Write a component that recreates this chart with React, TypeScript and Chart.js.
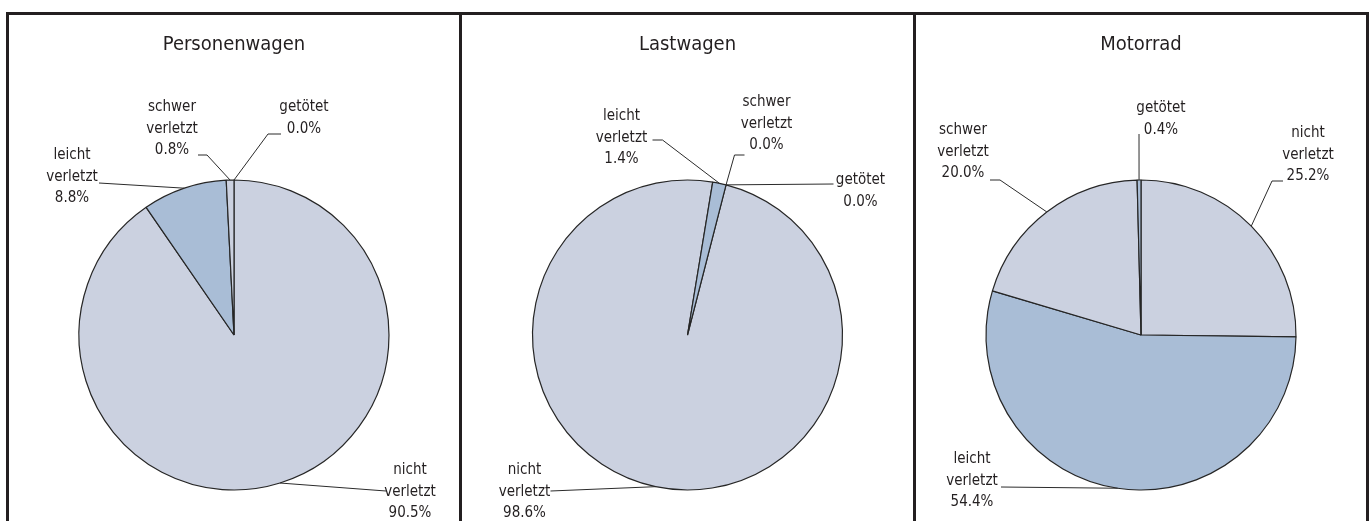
import React, { useEffect, useRef } from "react";
import { Chart, registerables } from "chart.js";

Chart.register(...registerables);

// ---- data ----
const categories = ["nicht verletzt", "leicht verletzt", "schwer verletzt", "getötet"];
const chartTitles = ["Personenwagen", "Lastwagen", "Motorrad"];
const personenwagenValues = [90.5, 8.8, 0.8, 0.0];
const lastwagenValues = [98.6, 1.4, 0.0, 0.0];
const motorradValues = [25.2, 54.4, 20.0, 0.4];
const firstSliceAngles = [0, 14.4, 0];
const sliceColors = ["#CBD1E0", "#A9BDD6", "#CBD1E0", "#A9BDD6"];

// ---- label layout (offsets from pie centre, px) ----
type LabelPos = { tx: number; ty: number; ex: number; ey: number; sx?: number; sy?: number };
const personenwagenLabels: LabelPos[] = [
  { tx: 176, ty: 157, ex: 152, ey: 156 },
  { tx: -162, ty: -158, ex: -135, ey: -152 },
  { tx: -62, ty: -206, ex: -27, ey: -180, sx: -36, sy: -180 },
  { tx: 70, ty: -217, ex: 34, ey: -201, sx: 47, sy: -201 },
];
const lastwagenLabels: LabelPos[] = [
  { tx: -163, ty: 157, ex: -137, ey: 156 },
  { tx: -66, ty: -197, ex: -25, ey: -195, sx: -35, sy: -195 },
  { tx: 79, ty: -211, ex: 47, ey: -180, sx: 57, sy: -180 },
  { tx: 173, ty: -144, ex: 146, ey: -151 },
];
const motorradLabels: LabelPos[] = [
  { tx: 167, ty: -180, ex: 131, ey: -154, sx: 142, sy: -154 },
  { tx: -169, ty: 146, ex: -140, ey: 152 },
  { tx: -178, ty: -183, ex: -141, ey: -155, sx: -151, sy: -155 },
  { tx: 20, ty: -216, ex: -2, ey: -201 },
];

const FONT = "'Liberation Sans Narrow', 'DejaVu Sans Condensed', 'Arial Narrow', sans-serif";
const TEXT_COLOR = "#231f20";

function makeLabelPlugin(layout: LabelPos[]) {
  return {
    id: "leaderLabels",
    afterDatasetsDraw(chart: any) {
      const meta = chart.getDatasetMeta(0);
      const ctx = chart.ctx as CanvasRenderingContext2D;
      const values = chart.data.datasets[0].data as number[];
      const labels = chart.data.labels as string[];
      ctx.save();
      meta.data.forEach((arc: any, i: number) => {
        const L = layout[i];
        if (!L) return;
        const { x, y, startAngle, endAngle, outerRadius } = arc.getProps(
          ["x", "y", "startAngle", "endAngle", "outerRadius"],
          true
        );
        const mid = (startAngle + endAngle) / 2;
        const px = x + Math.cos(mid) * outerRadius;
        const py = y + Math.sin(mid) * outerRadius;
        ctx.strokeStyle = "#2b2b2b";
        ctx.lineWidth = 1;
        ctx.beginPath();
        ctx.moveTo(px, py);
        ctx.lineTo(x + L.ex, y + L.ey);
        if (L.sx !== undefined && L.sy !== undefined) ctx.lineTo(x + L.sx, y + L.sy);
        ctx.stroke();

        const lines = [...String(labels[i]).split(" "), values[i].toFixed(1) + "%"];
        ctx.font = `15px ${FONT}`;
        ctx.fillStyle = TEXT_COLOR;
        ctx.textAlign = "center";
        ctx.textBaseline = "middle";
        const lh = 21.5;
        const top = y + L.ty - ((lines.length - 1) * lh) / 2;
        lines.forEach((t, k) => ctx.fillText(t, x + L.tx, top + k * lh));
      });
      ctx.restore();
    },
  };
}

function PieChart(props: {
  title: string;
  values: number[];
  rotation: number;
  layout: LabelPos[];
  width: number;
  height: number;
}) {
  const ref = useRef<HTMLCanvasElement | null>(null);
  useEffect(() => {
    if (!ref.current) return;
    const chart = new Chart(ref.current, {
      type: "pie",
      data: {
        labels: categories,
        datasets: [
          {
            data: props.values,
            backgroundColor: sliceColors,
            borderColor: "#262626",
            borderWidth: 1.2,
            radius: 155,
            rotation: props.rotation,
          } as any,
        ],
      },
      options: {
        responsive: false,
        animation: false,
        events: [],
        radius: 155,
        rotation: props.rotation,
        layout: {
          padding: {
            top: 0,
            bottom: 31,
            left: (props.width - 310) / 2,
            right: (props.width - 310) / 2,
          },
        },
        plugins: {
          legend: { display: false },
          tooltip: { enabled: false },
          title: {
            display: true,
            text: props.title,
            color: TEXT_COLOR,
            font: { family: FONT, size: 20, weight: "normal", lineHeight: 1.2 },
            padding: { top: 18, bottom: 123 },
          },
        },
      } as any,
      plugins: [makeLabelPlugin(props.layout)],
    });
    return () => chart.destroy();
  }, []);
  return (
    <canvas
      ref={ref}
      width={props.width}
      height={props.height}
      style={{ width: props.width, height: props.height, display: "block" }}
    />
  );
}

export default function App() {
  const panels = [
    { left: 9, width: 450, values: personenwagenValues, layout: personenwagenLabels },
    { left: 462, width: 451, values: lastwagenValues, layout: lastwagenLabels },
    { left: 916, width: 450, values: motorradValues, layout: motorradLabels },
  ];
  return (
    <div
      style={{
        position: "absolute",
        left: 0,
        top: 0,
        width: 1371,
        height: 521,
        overflow: "hidden",
        background: "#ffffff",
      }}
    >
      {panels.map((p, i) => (
        <div key={i} style={{ position: "absolute", left: p.left, top: 15 }}>
          <PieChart
            title={chartTitles[i]}
            values={p.values}
            rotation={firstSliceAngles[i]}
            layout={p.layout}
            width={p.width}
            height={506}
          />
        </div>
      ))}
      <div
        style={{
          position: "absolute",
          left: 6,
          top: 12,
          width: 1357,
          height: 600,
          border: "3px solid #231f20",
          borderBottom: "none",
        }}
      />
      <div style={{ position: "absolute", left: 459, top: 12, width: 3, height: 600, background: "#231f20" }} />
      <div style={{ position: "absolute", left: 913, top: 12, width: 3, height: 600, background: "#231f20" }} />
    </div>
  );
}
